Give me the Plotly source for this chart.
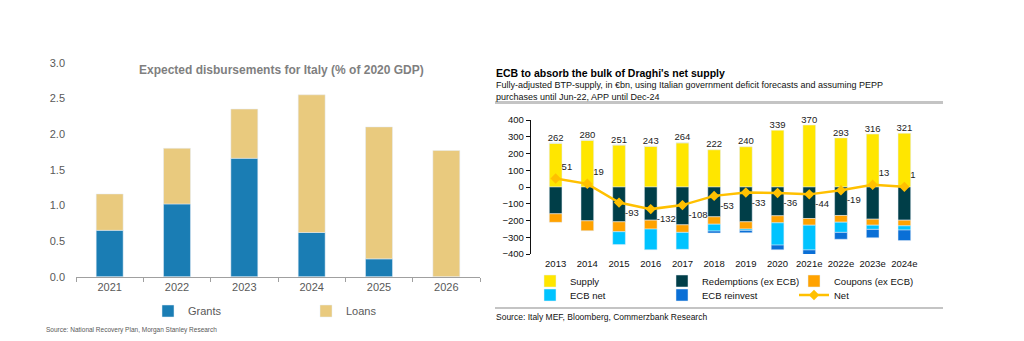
import plotly.graph_objects as go

W, H = 1024, 341

# ---- Left chart data ----
years_l = ["2021", "2022", "2023", "2024", "2025", "2026"]
grants = [0.65, 1.02, 1.66, 0.62, 0.25, 0.0]
loans = [0.51, 0.78, 0.69, 1.93, 1.85, 1.77]

# ---- Right chart data ----
years_r = ["2013", "2014", "2015", "2016", "2017", "2018", "2019", "2020",
           "2021e", "2022e", "2023e", "2024e"]
supply = [262, 280, 251, 243, 264, 222, 240, 339, 370, 293, 316, 321]
redemptions = [-160, -202, -208, -198, -226, -178, -208, -172, -188, -170, -192, -198]
coupons = [-51, -59, -59, -53, -45, -44, -43, -42, -40, -40, -36, -34]
ecb_net = [0, 0, -77, -124, -101, -41, -8, -133, -148, -61, -25, -25]
ecb_reinvest = [0, 0, 0, 0, 0, -12, -14, -28, -38, -41, -50, -63]
net = [51, 19, -93, -132, -108, -53, -33, -36, -44, -19, 13, 1]

FONT = "Liberation Sans, Arial, sans-serif"

def px(x):
    return x / W

def py(y):
    return (H - y) / H

fig = go.Figure()

# Left
fig.add_trace(go.Bar(x=years_l, y=grants, name="Grants", marker_color="#1a7db4",
                     xaxis="x", yaxis="y", legend="legend"))
fig.add_trace(go.Bar(x=years_l, y=loans, name="Loans", marker_color="#e9ca7e",
                     xaxis="x", yaxis="y", legend="legend"))

# Right
fig.add_trace(go.Bar(x=years_r, y=supply, name="Supply", marker_color="#ffe600",
                     xaxis="x2", yaxis="y2", legend="legend2"))
fig.add_trace(go.Bar(x=years_r, y=redemptions, name="Redemptions (ex ECB)", marker_color="#003e48",
                     xaxis="x2", yaxis="y2", legend="legend2"))
fig.add_trace(go.Bar(x=years_r, y=coupons, name="Coupons (ex ECB)", marker_color="#ffa200",
                     xaxis="x2", yaxis="y2", legend="legend2"))
fig.add_trace(go.Bar(x=years_r, y=ecb_net, name="ECB net", marker_color="#00c3ff",
                     xaxis="x2", yaxis="y2", legend="legend3"))
fig.add_trace(go.Bar(x=years_r, y=ecb_reinvest, name="ECB reinvest", marker_color="#0a6fd6",
                     xaxis="x2", yaxis="y2", legend="legend3"))
fig.add_trace(go.Scatter(x=years_r, y=net, name="Net", mode="lines+markers+text",
                         line=dict(color="#ffc000", width=2.5),
                         marker=dict(symbol="diamond", size=8, color="#ffc000"),
                         text=[str(v) for v in net],
                         textposition=["top right" if v > 0 else "bottom right" for v in net],
                         textfont=dict(size=9.5, color="#222222", family=FONT),
                         cliponaxis=False,
                         xaxis="x2", yaxis="y2", legend="legend3"))
fig.add_trace(go.Scatter(x=years_r, y=supply, mode="text", text=[str(v) for v in supply],
                         textposition="top center", showlegend=False,
                         textfont=dict(size=9.5, color="#222222", family=FONT),
                         cliponaxis=False,
                         xaxis="x2", yaxis="y2", hoverinfo="skip"))

lx0, lx1 = px(76), px(480)
ly0, ly1 = py(276.7), py(62.7)
rx0, rx1 = px(530.7), px(929.3)
ry0, ry1 = py(254), py(120)

n_r = len(years_r)

fig.update_layout(
    width=W, height=H,
    margin=dict(l=0, r=0, t=0, b=0, autoexpand=False),
    paper_bgcolor="white", plot_bgcolor="white",
    barmode="relative", bargap=0.6,
    font=dict(family=FONT, color="#595959", size=11),
    xaxis=dict(domain=[lx0, lx1], anchor="y", showline=True, linecolor="#a0a0a0",
               ticks="outside", tickson="boundaries", ticklen=4, tickcolor="#a0a0a0",
               tickfont=dict(size=11, color="#595959"), fixedrange=True),
    yaxis=dict(domain=[ly0, ly1], anchor="x", range=[0, 3], dtick=0.5, tickformat=".1f",
               showgrid=False, zeroline=False, showline=False,
               tickfont=dict(size=11, color="#595959"), ticklabelstandoff=10),
    xaxis2=dict(domain=[rx0, rx1], anchor="y2", showline=False, ticks="",
                tickfont=dict(size=9.5, color="#111111"), ticklabelstandoff=2),
    yaxis2=dict(domain=[ry0, ry1], anchor="x2", range=[-400, 400], dtick=100,
                showgrid=False, zeroline=False, showline=True, linecolor="#111111",
                linewidth=1, ticks="outside", ticklen=4, tickcolor="#111111",
                tickfont=dict(size=9.5, color="#111111")),
    xaxis3=dict(overlaying="x2", anchor="free", position=(ry0 + ry1) / 2,
                range=[-0.5, n_r - 0.5], tickvals=[i - 0.5 for i in range(n_r + 1)],
                showticklabels=False, showline=True, linecolor="#111111", linewidth=1,
                ticks="outside", ticklen=4, tickcolor="#111111", showgrid=False,
                zeroline=False),
    legend=dict(orientation="h", x=px(148), y=py(311), xanchor="left", yanchor="middle",
                entrywidth=113, entrywidthmode="pixels", itemwidth=30,
                font=dict(size=11, color="#595959"), bgcolor="rgba(0,0,0,0)"),
    legend2=dict(orientation="h", x=px(530), y=py(281), xanchor="left", yanchor="middle",
                 entrywidth=87, entrywidthmode="pixels", itemwidth=30,
                 font=dict(size=9.5, color="#111111"), bgcolor="rgba(0,0,0,0)"),
    legend3=dict(orientation="h", x=px(530), y=py(295), xanchor="left", yanchor="middle",
                 entrywidth=87, entrywidthmode="pixels", itemwidth=30,
                 font=dict(size=9.5, color="#111111"), bgcolor="rgba(0,0,0,0)"),
    showlegend=True,
)

# Titles and notes
fig.add_annotation(text="<b>Expected disbursements for Italy (% of 2020 GDP)</b>",
                   x=px(281), y=py(70), xref="paper", yref="paper", showarrow=False,
                   xanchor="center", yanchor="middle",
                   font=dict(size=12, color="#7f7f7f", family=FONT))
fig.add_annotation(text="Source: National Recovery Plan, Morgan Stanley Research",
                   x=px(44), y=py(330), xref="paper", yref="paper", showarrow=False,
                   xanchor="left", yanchor="middle",
                   font=dict(size=6.5, color="#595959", family=FONT))
fig.add_annotation(text="<b>ECB to absorb the bulk of Draghi's net supply</b>",
                   x=px(494), y=py(73), xref="paper", yref="paper", showarrow=False,
                   xanchor="left", yanchor="middle",
                   font=dict(size=10.5, color="#000000", family=FONT))
fig.add_annotation(text="Fully-adjusted BTP-supply, in €bn, using Italian government deficit forecasts and assuming PEPP<br>purchases until Jun-22, APP until Dec-24",
                   x=px(494), y=py(78), xref="paper", yref="paper", showarrow=False,
                   xanchor="left", yanchor="top", align="left",
                   font=dict(size=9, color="#111111", family=FONT))
fig.add_annotation(text="Source: Italy MEF, Bloomberg, Commerzbank Research",
                   x=px(494), y=py(317), xref="paper", yref="paper", showarrow=False,
                   xanchor="left", yanchor="middle",
                   font=dict(size=8.5, color="#111111", family=FONT))

fig.add_shape(type="line", xref="paper", yref="paper", x0=px(495), x1=px(943),
              y0=py(102.5), y1=py(102.5), line=dict(color="#c4c4c4", width=3))
fig.add_shape(type="line", xref="paper", yref="paper", x0=px(495), x1=px(943),
              y0=py(308), y1=py(308), line=dict(color="#c4c4c4", width=2))

fig.write_html("out.html")
